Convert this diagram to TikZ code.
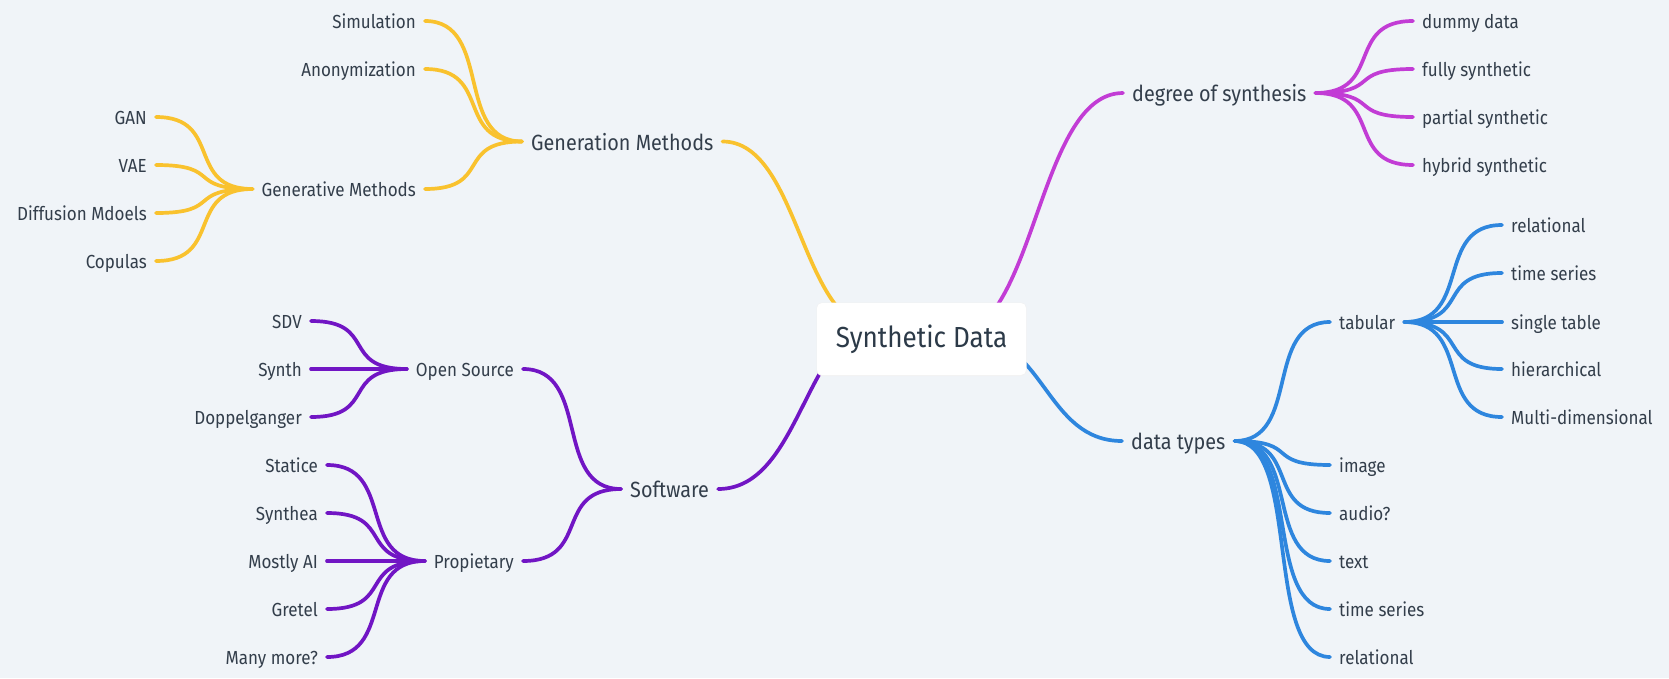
\documentclass[tikz,border=0pt]{standalone}
\usepackage{fontspec}
\setmainfont{Fira Sans}[FakeStretch=0.9]
\usetikzlibrary{calc}
\definecolor{bg}{HTML}{F0F4F8}
\definecolor{txt}{HTML}{333E4B}
\definecolor{rtxt}{HTML}{2C3A48}
\definecolor{cy}{HTML}{F9C22E}
\definecolor{cp}{HTML}{7115C4}
\definecolor{cm}{HTML}{C23CD5}
\definecolor{cb}{HTML}{2E86DE}
\newcommand\mmlink[4]{%
  \draw[#1] let \p1=(#3), \p2=(#4) in (\p1) .. controls ({\x1+#2*(\x2-\x1)},\y1) and ({\x2-#2*(\x2-\x1)},\y2) .. (\p2);}
\tikzset{
  lthree/.style={inner xsep=9pt, inner ysep=0pt, text height=15pt, text depth=0pt, text=txt, font=\fontsize{18.9}{20}\selectfont},
  lone/.style={inner xsep=9pt, inner ysep=0pt, text height=17pt, text depth=0pt, text=txt, font=\fontsize{22}{24}\selectfont},
  lk/.style={line width=3.7pt, line cap=round},
  yl/.style={lk, draw=cy},
  pl/.style={lk, draw=cp},
  ml/.style={lk, draw=cm},
  bl/.style={lk, draw=cb},
}
\begin{document}
\begin{tikzpicture}[x=1pt,y=-1pt]
\useasboundingbox (0,0) rectangle (1669,678);
\fill[bg] (0,0) rectangle (1669,678);

% ---------- nodes: yellow
\node[lone,anchor=west] (genm) at (522,141.5) {Generation Methods};
\node[lthree,anchor=east] (sim) at (425,21) {Simulation};
\node[lthree,anchor=east] (anon) at (425,69) {Anonymization};
\node[lthree,anchor=east] (genv) at (425,189) {Generative Methods};
\node[lthree,anchor=east] (gan) at (156,117) {GAN};
\node[lthree,anchor=east] (vae) at (156,165) {VAE};
\node[lthree,anchor=east] (diff) at (156,213) {Diffusion Mdoels};
\node[lthree,anchor=east] (cop) at (156,261) {Copulas};
% purple
\node[lone,anchor=west] (soft) at (621,489) {Software};
\node[lthree,anchor=east] (os) at (523,369) {Open Source};
\node[lthree,anchor=east] (prop) at (523,561) {Propietary};
\node[lthree,anchor=east] (sdv) at (311,321) {SDV};
\node[lthree,anchor=east] (synth) at (311,369) {Synth};
\node[lthree,anchor=east] (dopp) at (311,417) {Doppelganger};
\node[lthree,anchor=east] (stat) at (327,465) {Statice};
\node[lthree,anchor=east] (syna) at (327,513) {Synthea};
\node[lthree,anchor=east] (most) at (327,561) {Mostly AI};
\node[lthree,anchor=east] (gret) at (327,609) {Gretel};
\node[lthree,anchor=east] (many) at (327,657) {Many more?};
% magenta
\node[lone,anchor=west] (deg) at (1123,93) {degree of synthesis};
\node[lthree,anchor=west] (dummy) at (1413,21) {dummy data};
\node[lthree,anchor=west] (fully) at (1413,69) {fully synthetic};
\node[lthree,anchor=west] (part) at (1413,117) {partial synthetic};
\node[lthree,anchor=west] (hyb) at (1413,165) {hybrid synthetic};
% blue
\node[lone,anchor=west] (dt) at (1122,441) {data types};
\node[lthree,anchor=west] (tab) at (1330,322) {tabular};
\node[lthree,anchor=west] (rela) at (1502,225) {relational};
\node[lthree,anchor=west] (tsa) at (1502,273) {time series};
\node[lthree,anchor=west] (single) at (1502,322) {single table};
\node[lthree,anchor=west] (hier) at (1502,369) {hierarchical};
\node[lthree,anchor=west] (multi) at (1502,417) {Multi-dimensional};
\node[lthree,anchor=west] (img) at (1330,465) {image};
\node[lthree,anchor=west] (aud) at (1330,513) {audio?};
\node[lthree,anchor=west] (txtn) at (1330,561) {text};
\node[lthree,anchor=west] (tsb) at (1330,609) {time series};
\node[lthree,anchor=west] (relb) at (1330,657) {relational};

% hidden ends of the main branches (under the root box)
\coordinate (ry) at (878,329);
\coordinate (rp) at (890,318);
\coordinate (rm) at (950,337);
\coordinate (rb) at (968,336);

% ---------- connectors
\mmlink{yl}{0.5}{genm.east}{ry}
\mmlink{pl}{0.5}{soft.east}{rp}
\mmlink{ml}{0.5}{deg.west}{rm}
\mmlink{bl}{0.5}{dt.west}{rb}

\foreach \c in {sim,anon,genv}{\mmlink{yl}{0.7}{genm.west}{\c.east}}
\foreach \c in {gan,vae,diff,cop}{\mmlink{yl}{0.7}{genv.west}{\c.east}}
\foreach \c in {os,prop}{\mmlink{pl}{0.7}{soft.west}{\c.east}}
\foreach \c in {sdv,synth,dopp}{\mmlink{pl}{0.7}{os.west}{\c.east}}
\foreach \c in {stat,syna,most,gret,many}{\mmlink{pl}{0.7}{prop.west}{\c.east}}
\foreach \c in {dummy,fully,part,hyb}{\mmlink{ml}{0.7}{deg.east}{\c.west}}
\foreach \c in {tab,img,aud,txtn,tsb,relb}{\mmlink{bl}{0.7}{dt.east}{\c.west}}
\foreach \c in {rela,tsa,single,hier,multi}{\mmlink{bl}{0.7}{tab.east}{\c.west}}

% ---------- root
\fill[black!5, rounded corners=6pt] (816.5,302.5) rectangle (1026.5,376);
\node[fill=white, rounded corners=5pt, minimum width=209pt, minimum height=72pt, inner sep=0pt, text=rtxt, font=\fontsize{29}{32}\selectfont] (root) at (921.5,339) {Synthetic Data};
\end{tikzpicture}
\end{document}
